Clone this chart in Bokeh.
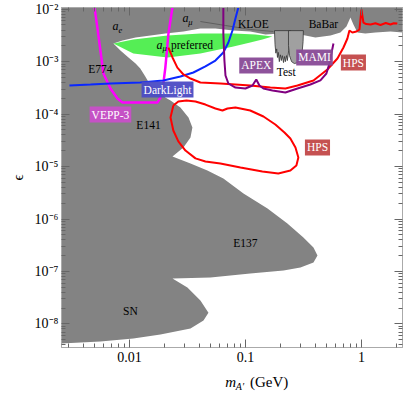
from bokeh.plotting import figure
from bokeh.layouts import column
from bokeh.models import LogAxis, FixedTicker, Label, ColumnDataSource, Range1d
from bokeh.core.properties import value
from bokeh.embed import file_html
from bokeh.resources import INLINE

# ---------------- data (mass in GeV, epsilon) ----------------
# combined existing exclusions (a_e, a_mu, KLOE, BaBar, E774, E141, E137, SN)
excl_m = [0.0025, 2.3, 2.3, 1.78, 1.32, 1.08, 0.924, 0.853, 0.804, 0.743, 0.659, 0.541,
          0.401, 0.298, 0.200, 0.149, 0.110, 0.0788, 0.0551, 0.0409, 0.0292, 0.0204,
          0.0152, 0.0113, 0.00871, 0.00728, 0.00836, 0.00981, 0.0113, 0.0124, 0.0137,
          0.0152, 0.0178, 0.0204, 0.0226, 0.0275, 0.0323, 0.0349, 0.0336, 0.0292,
          0.0235, 0.0336, 0.0470, 0.0645, 0.0962, 0.155, 0.230, 0.316, 0.386, 0.418,
          0.386, 0.298, 0.213, 0.110, 0.0499, 0.0235, 0.0316, 0.0409, 0.0480, 0.0435,
          0.0336, 0.0185, 0.0108, 0.00562, 0.0025]
excl_eps = [0.011, 0.011, 3.60e-3, 3.76e-3, 3.60e-3, 3.44e-3, 3.60e-3, 5.1e-3, 6.95e-3,
            4.68e-3, 3.60e-3, 3.15e-3, 2.89e-3, 3.30e-3, 3.44e-3, 3.30e-3, 3.76e-3,
            3.93e-3, 4.28e-3, 4.28e-3, 3.76e-3, 3.44e-3, 3.15e-3, 2.89e-3, 2.53e-3,
            2.22e-3, 1.63e-3, 1.20e-3, 9.2e-4, 7.4e-4, 5.21e-4, 3.51e-4, 2.58e-4,
            2.07e-4, 1.82e-4, 1.34e-4, 8.61e-5, 5.55e-5, 3.58e-5, 2.31e-5, 1.56e-5,
            1.14e-5, 8.4e-6, 5.92e-6, 3.06e-6, 1.58e-6, 8.2e-7, 4.44e-7, 2.86e-7,
            2.01e-7, 1.48e-7, 1.19e-7, 1.04e-7, 9.1e-8, 7.65e-8, 7.3e-8, 4.93e-8,
            2.79e-8, 1.64e-8, 1.16e-8, 8.15e-9, 6.26e-9, 5.25e-9, 4.6e-9, 4.22e-9]

# a_mu preferred band
green_m = [0.00728, 0.0108, 0.0213, 0.0409, 0.0788, 0.122, 0.171, 0.140, 0.110,
           0.0788, 0.0409, 0.0213, 0.0108]
green_eps = [2.22e-3, 2.64e-3, 3.15e-3, 3.44e-3, 3.44e-3, 3.30e-3, 3.02e-3, 2.64e-3,
             2.32e-3, 1.95e-3, 1.43e-3, 1.20e-3, 1.43e-3]

# APEX test run (two lobes)
test1_m = [0.178, 0.180, 0.183, 0.186, 0.189, 0.192, 0.196, 0.200, 0.204, 0.208, 0.213,
           0.217, 0.221, 0.226, 0.230, 0.236, 0.241, 0.246]
test1_eps = [3.9e-3, 2.1e-3, 1.45e-3, 1.75e-3, 1.2e-3, 1.5e-3, 1.0e-3, 1.35e-3, 1.05e-3,
             1.3e-3, 9.6e-4, 1.25e-3, 1.0e-3, 1.3e-3, 1.05e-3, 1.63e-3, 2.53e-3, 3.9e-3]
test2_m = [0.235, 0.235, 0.240, 0.250, 0.264, 0.280, 0.295, 0.308, 0.314, 0.316]
test2_eps = [3.9e-3, 2.03e-3, 1.3e-3, 1.0e-3, 9.2e-4, 9.5e-4, 1.1e-3, 1.5e-3, 2.4e-3, 3.9e-3]

# projected reaches
vepp_m = [0.00499, 0.00529, 0.00562, 0.00597, 0.00686, 0.00788, 0.00871, 0.0174,
          0.0185, 0.0196, 0.0204, 0.0217, 0.0235]
vepp_eps = [0.011, 4.48e-3, 1.63e-3, 5.94e-4, 3.08e-4, 1.98e-4, 1.66e-4, 1.66e-4,
            2.07e-4, 3.83e-4, 7.7e-4, 3.44e-3, 0.011]

dl_m = [0.00304, 0.00462, 0.00686, 0.0124, 0.0196, 0.0275, 0.0356, 0.0452, 0.0551,
        0.0645, 0.0713, 0.0773, 0.0820, 0.0871]
dl_eps = [3.51e-4, 3.66e-4, 3.83e-4, 4.0e-4, 4.38e-4, 5.21e-4, 6.21e-4, 8.09e-4,
          1.05e-3, 1.49e-3, 2.32e-3, 3.93e-3, 6.65e-3, 0.011]

hps1_m = [0.0217, 0.0235, 0.0259, 0.0292, 0.0336, 0.0409, 0.0608, 0.110, 0.164, 0.221,
          0.281, 0.386, 0.509, 0.621, 0.700, 0.757, 0.788, 0.835, 0.906, 0.962, 1.0,
          1.04, 1.10, 1.20, 1.32, 1.46, 1.62, 1.78, 1.90, 2.04]
hps1_eps = [1.86e-3, 1.20e-3, 7.7e-4, 5.69e-4, 4.77e-4, 4.0e-4, 3.83e-4, 3.51e-4,
            3.21e-4, 3.08e-4, 3.51e-4, 4.38e-4, 7.08e-4, 1.15e-3, 1.86e-3, 2.76e-3,
            3.93e-3, 3.60e-3, 3.76e-3, 4.10e-3, 9.87e-3, 5.57e-3, 5.2e-3, 5.1e-3,
            5.4e-3, 5.0e-3, 5.45e-3, 5.1e-3, 5.4e-3, 5.33e-3]

hps2_m = [0.0239, 0.0264, 0.0310, 0.0371, 0.0452, 0.0551, 0.0634, 0.0700, 0.0820,
          0.110, 0.143, 0.181, 0.217, 0.244, 0.270, 0.286, 0.275, 0.244, 0.192, 0.140,
          0.0906, 0.0608, 0.0452, 0.0371, 0.0304, 0.0264, 0.0239, 0.0226, 0.0239]
hps2_eps = [1.46e-4, 1.74e-4, 1.82e-4, 1.74e-4, 1.52e-4, 1.28e-4, 1.17e-4, 1.28e-4,
            1.34e-4, 1.17e-4, 9.0e-5, 6.33e-5, 4.46e-5, 3.43e-5, 2.31e-5, 1.49e-5,
            1.05e-5, 8.4e-6, 7.36e-6, 8.05e-6, 9.6e-6, 1.14e-5, 1.25e-5, 1.43e-5,
            2.02e-5, 3.01e-5, 4.87e-5, 8.61e-5, 1.46e-4]

apex_m = [0.0645, 0.0645, 0.0659, 0.0673, 0.0713, 0.0820, 0.100, 0.115, 0.124, 0.132,
          0.143, 0.171, 0.221, 0.281, 0.363, 0.443, 0.499, 0.530, 0.551, 0.574]
apex_eps = [0.011, 3.44e-3, 1.05e-3, 5.45e-4, 3.83e-4, 3.21e-4, 3.08e-4, 3.51e-4,
            4.57e-4, 3.51e-4, 3.08e-4, 2.82e-4, 2.58e-4, 3.08e-4, 3.66e-4, 4.38e-4,
            5.94e-4, 9.2e-4, 1.43e-3, 2.22e-3]

kloe_line_m = [0.0409, 0.0673, 0.110, 0.174]
kloe_line_eps = [5.82e-3, 4.89e-3, 4.10e-3, 3.76e-3]

# text labels
plain_text = ["E774", "E141", "E137", "SN", "KLOE", "BaBar", "Test"]
plain_m = [0.00562, 0.0146, 0.100, 0.0102, 0.117, 0.470, 0.225]
plain_eps = [7.4e-4, 6.07e-5, 3.56e-7, 1.80e-8, 5.33e-3, 5.33e-3, 6.21e-4]

ital_text = ["a", "e", "a", "μ", "a", "μ"]
ital_m = [0.00757, 0.00836, 0.0304, 0.0336, 0.0182, 0.0201]
ital_eps = [4.68e-3, 4.10e-3, 6.65e-3, 5.82e-3, 2.12e-3, 1.86e-3]
ital_size = ["12px", "8.5px", "12px", "8.5px", "12px", "8.5px"]

pref_text = ["preferred"]
pref_m = [0.0228]
pref_eps = [2.12e-3]

box_text = ["DarkLight", "VEPP-3", "APEX", "MAMI", "HPS", "HPS"]
box_m = [0.0213, 0.00686, 0.124, 0.394, 0.853, 0.418]
box_eps = [2.94e-4, 9.8e-5, 8.45e-4, 1.20e-3, 9.6e-4, 2.31e-5]
box_color = ["#4b4bc4", "#c84fc8", "#884a96", "#884a96", "#c24848", "#c24848"]

x_ticks = [0.01, 0.1, 1.0]
x_tick_labels = ["0.01", "0.1", "1"]
y_ticks = [1e-8, 1e-7, 1e-6, 1e-5, 1e-4, 1e-3, 1e-2]
y_tick_labels = ["10⁻⁸", "10⁻⁷", "10⁻⁶", "10⁻⁵", "10⁻⁴", "10⁻³", "10⁻²"]
y_title = "ϵ"
x_title_parts = ["m", "A′", "(GeV)"]

x_minor = [k * d for d in (0.001, 0.01, 0.1, 1.0) for k in range(2, 10)]
y_minor = [k * d for d in (1e-9, 1e-8, 1e-7, 1e-6, 1e-5, 1e-4, 1e-3) for k in range(2, 10)]

SERIF = value("Liberation Serif")

# ---------------- main figure ----------------
p = figure(width=407, height=368, x_axis_type="log", y_axis_type="log",
           x_range=Range1d(2.596e-3, 2.26), y_range=Range1d(3.55e-9, 1.077e-2),
           output_backend="svg", toolbar_location=None,
           min_border_left=61, min_border_right=5, min_border_top=7,
           min_border_bottom=21)
p.grid.visible = False
p.outline_line_color = "#aaaaaa"
p.background_fill_color = "white"
p.border_fill_color = "white"

p.patch(excl_m, excl_eps, fill_color="#838383", line_color=None)
p.patch(green_m, green_eps, fill_color="#55ee55", line_color=None)
p.patch(test1_m, test1_eps, fill_color="#a0a0a0", line_color="#333333", line_width=0.8)
p.patch(test2_m, test2_eps, fill_color="#a0a0a0", line_color="#333333", line_width=0.8)
p.line(kloe_line_m, kloe_line_eps, line_color="#555555", line_width=0.8)

p.line(vepp_m, vepp_eps, line_color="#ff00ff", line_width=2.5)
p.line(dl_m, dl_eps, line_color="#0a28ff", line_width=2)
p.line(hps1_m, hps1_eps, line_color="#ff0000", line_width=2)
p.line(hps2_m, hps2_eps, line_color="#ff0000", line_width=2)
p.line(apex_m, apex_eps, line_color="#800080", line_width=2)

p.text(plain_m, plain_eps, text=plain_text, text_font=SERIF, text_font_size="11.5px",
       text_align="center", text_baseline="middle", text_color="black")
src_i = ColumnDataSource(dict(x=ital_m, y=ital_eps, t=ital_text, s=ital_size))
p.text("x", "y", text="t", source=src_i, text_font=SERIF, text_font_size="s",
       text_font_style="italic", text_align="center", text_baseline="middle",
       text_color="black")
p.text(pref_m, pref_eps, text=pref_text, text_font=SERIF, text_font_size="11.5px",
       text_align="left", text_baseline="middle", text_color="black")

for t, xm, ye, c in zip(box_text, box_m, box_eps, box_color):
    p.add_layout(Label(x=xm, y=ye, text=t, text_font="Liberation Serif",
                       text_font_size="11.5px", text_color="white",
                       text_align="center", text_baseline="middle",
                       background_fill_color=c, background_fill_alpha=0.95,
                       padding=2))

# axes
def style_axis(ax, show_labels):
    ax.major_tick_in = 8
    ax.major_tick_out = 0
    ax.minor_tick_in = 4
    ax.minor_tick_out = 0
    ax.axis_line_color = "#aaaaaa"
    ax.major_tick_line_color = "#666666"
    ax.minor_tick_line_color = "#666666"
    ax.major_label_text_font = "Liberation Serif"
    ax.major_label_text_color = "black"
    if show_labels:
        ax.major_label_text_font_size = "14px"
    else:
        ax.major_label_text_font_size = "0px"
        ax.major_label_standoff = 0

p.xaxis.ticker = FixedTicker(ticks=x_ticks, minor_ticks=x_minor)
p.yaxis.ticker = FixedTicker(ticks=y_ticks, minor_ticks=y_minor)
p.xaxis.major_label_overrides = dict(zip(x_ticks, x_tick_labels))
p.yaxis.major_label_overrides = dict(zip(y_ticks, y_tick_labels))
for ax in p.xaxis:
    style_axis(ax, True)
    ax.major_label_standoff = 4
for ax in p.yaxis:
    style_axis(ax, True)
    ax.major_label_standoff = 3
    ax.axis_label = y_title
    ax.axis_label_text_font = "Liberation Serif"
    ax.axis_label_text_font_style = "normal"
    ax.axis_label_text_font_size = "15px"
    ax.axis_label_text_color = "black"
    ax.axis_label_standoff = 6

top = LogAxis(ticker=FixedTicker(ticks=x_ticks, minor_ticks=x_minor))
style_axis(top, False)
top.major_label_overrides = {t: "" for t in x_ticks}
p.add_layout(top, "above")
right = LogAxis(ticker=FixedTicker(ticks=y_ticks, minor_ticks=y_minor))
style_axis(right, False)
right.major_label_overrides = {t: "" for t in y_ticks}
p.add_layout(right, "right")

# ---------------- strip with the x-axis title ----------------
q = figure(width=407, height=25, x_range=Range1d(0, 407), y_range=Range1d(0, 25),
           output_backend="svg", toolbar_location=None,
           min_border_left=0, min_border_right=0, min_border_top=0, min_border_bottom=0)
q.axis.visible = False
q.grid.visible = False
q.outline_line_color = None
q.text([202], [12], text=[x_title_parts[0]], text_font=SERIF, text_font_size="15px",
       text_font_style="italic", text_align="center", text_baseline="middle",
       text_color="black")
q.text([208], [7], text=[x_title_parts[1]], text_font=SERIF, text_font_size="10px",
       text_font_style="italic", text_align="left", text_baseline="middle",
       text_color="black")
q.text([225], [12], text=[x_title_parts[2]], text_font=SERIF, text_font_size="15px",
       text_align="left", text_baseline="middle", text_color="black")

open("out.html", "w").write(file_html(column(p, q, spacing=0), INLINE))
